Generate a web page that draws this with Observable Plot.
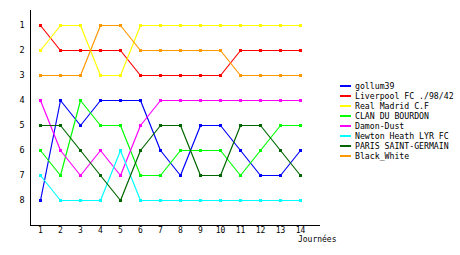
<!DOCTYPE html>
<html>
<head>
<meta charset="utf-8">
<script src="https://cdn.jsdelivr.net/npm/d3@7"></script>
<script src="https://cdn.jsdelivr.net/npm/@observablehq/plot@0.6"></script>
<style>
  body { margin: 0; background: #fff; }
  #wrap { position: relative; width: 460px; height: 255px; font-family: "DejaVu Sans Mono", monospace; }
  #legend { position: absolute; left: 340px; top: 81px; font-size: 8.2px; color: #000; }
  .row { height: 10px; display: flex; align-items: center; white-space: nowrap; }
  .sw { width: 11px; height: 2px; margin-right: 4px; }
</style>
</head>
<body>
<div id="wrap"><div id="legend"></div></div>
<script>
const journees = [1,2,3,4,5,6,7,8,9,10,11,12,13,14];
const rankTicks = [1,2,3,4,5,6,7,8];
const teams = ["gollum39","Liverpool FC ./98/42","Real Madrid C.F","CLAN DU BOURDON","Damon-Dust","Newton Heath LYR FC","PARIS SAINT-GERMAIN","Black_White"];
const colors = ["#0000ff","#ff0000","#ffff00","#00ff00","#ff00ff","#00ffff","#006600","#ff9900"];
const gollum39     = [8,4,5,4,4,4,6,7,5,5,6,7,7,6];
const liverpool    = [1,2,2,2,2,3,3,3,3,3,2,2,2,2];
const realMadrid   = [2,1,1,3,3,1,1,1,1,1,1,1,1,1];
const clanBourdon  = [6,7,4,5,5,7,7,6,6,6,7,6,5,5];
const damonDust    = [4,6,7,6,7,5,4,4,4,4,4,4,4,4];
const newtonHeath  = [7,8,8,8,6,8,8,8,8,8,8,8,8,8];
const psg          = [5,5,6,7,8,6,5,5,7,7,5,5,6,7];
const blackWhite   = [3,3,3,1,1,2,2,2,2,2,3,3,3,3];
const series = [gollum39, liverpool, realMadrid, clanBourdon, damonDust, newtonHeath, psg, blackWhite];

const data = [];
series.forEach((vals, i) => vals.forEach((v, j) => data.push({team: teams[i], j: journees[j], rank: v})));

const font = "DejaVu Sans Mono";
const chart = Plot.plot({
  width: 460, height: 255,
  marginLeft: 30, marginTop: 10, marginBottom: 30, marginRight: 140,
  style: {fontFamily: font, fontSize: "8.3px", background: "#fff", color: "#000"},
  x: {domain: [0.5, 15]},
  y: {domain: [0.4, 9], reverse: true},
  color: {domain: teams, range: colors},
  marks: [
    Plot.line(data, {x: "j", y: "rank", z: "team", stroke: "team", strokeWidth: 1.2}),
    Plot.dot(data, {x: "j", y: "rank", fill: "team", symbol: "square", r: 1.7}),
    Plot.ruleX([0.5], {stroke: "#000", strokeWidth: 1, shapeRendering: "crispEdges"}),
    Plot.ruleY([9], {stroke: "#000", strokeWidth: 1, shapeRendering: "crispEdges"}),
    Plot.axisY({ticks: rankTicks, tickSize: 0, tickPadding: 6, label: null, fontSize: 8.5}),
    Plot.axisX({ticks: journees, tickSize: 0, tickPadding: 2, label: null, fontSize: 8, tickFormat: d => String(d)}),
    Plot.text(["Journées"], {frameAnchor: "bottom-right", dx: 16, dy: 16, textAnchor: "end", fontSize: 8})
  ]
});
const wrap = document.getElementById("wrap");
wrap.insertBefore(chart, wrap.firstChild);

const legend = document.getElementById("legend");
teams.forEach((t, i) => {
  const row = document.createElement("div");
  row.className = "row";
  const sw = document.createElement("div");
  sw.className = "sw";
  sw.style.background = colors[i];
  const lab = document.createElement("span");
  lab.textContent = t;
  row.appendChild(sw); row.appendChild(lab);
  legend.appendChild(row);
});
</script>
</body>
</html>
